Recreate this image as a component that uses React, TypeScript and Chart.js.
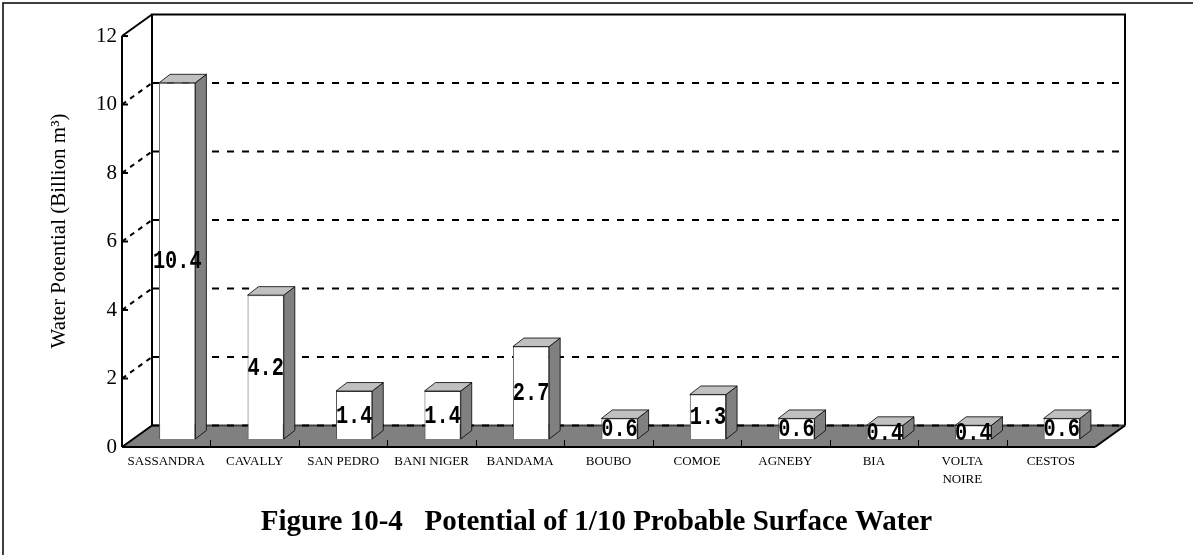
import React, { useEffect, useRef } from 'react';
import { Chart, registerables } from 'chart.js';

Chart.register(...registerables);

const categories: (string | string[])[] = [
  'SASSANDRA', 'CAVALLY', 'SAN PEDRO', 'BANI NIGER', 'BANDAMA', 'BOUBO',
  'COMOE', 'AGNEBY', 'BIA', ['VOLTA', 'NOIRE'], 'CESTOS',
];
const values = [10.4, 4.2, 1.4, 1.4, 2.7, 0.6, 1.3, 0.6, 0.4, 0.4, 0.6];
const yTicks = [0, 2, 4, 6, 8, 10, 12];
const yTitle = 'Water Potential (Billion m\u00B3)';
const caption = 'Figure 10-4   Potential of 1/10 Probable Surface Water';

// 3D geometry (pixels)
const WALL_DX = 30;
const WALL_DY = 21.5;
const BAR_SX = 11;
const BAR_SY = 8;
const BAR_DX = 11;
const BAR_DY = 8.5;

const SERIF = '"Liberation Serif", "Times New Roman", serif';

const threeD = {
  id: 'threeD',
  beforeDatasetsDraw(chart: any) {
    const { ctx, chartArea: a, scales } = chart;
    const y = scales.y;
    const L = a.left, R = a.right, T = a.top, B = a.bottom;
    ctx.save();
    // back wall
    ctx.fillStyle = '#ffffff';
    ctx.fillRect(L + WALL_DX, T - WALL_DY, R - L, B - T);
    // floor
    ctx.beginPath();
    ctx.moveTo(L, B);
    ctx.lineTo(R, B);
    ctx.lineTo(R + WALL_DX, B - WALL_DY);
    ctx.lineTo(L + WALL_DX, B - WALL_DY);
    ctx.closePath();
    ctx.fillStyle = '#808080';
    ctx.fill();

    // floor back edge
    ctx.strokeStyle = '#404040';
    ctx.lineWidth = 2;
    ctx.beginPath();
    ctx.moveTo(L + WALL_DX, B - WALL_DY);
    ctx.lineTo(R + WALL_DX, B - WALL_DY);
    ctx.stroke();

    // dashed gridlines
    ctx.strokeStyle = '#000';
    ctx.lineWidth = 2;
    for (const v of yTicks) {
      if (v === yTicks[yTicks.length - 1]) continue;
      const py = y.getPixelForValue(v);
      ctx.setLineDash([7, 8]);
      ctx.beginPath();
      ctx.moveTo(L + WALL_DX, py - WALL_DY);
      ctx.lineTo(R + WALL_DX, py - WALL_DY);
      ctx.stroke();
      if (v !== 0) {
        ctx.setLineDash([5, 5]);
        ctx.beginPath();
        ctx.moveTo(L, py);
        ctx.lineTo(L + WALL_DX, py - WALL_DY);
        ctx.stroke();
      }
    }
    ctx.setLineDash([]);

    // solid frame edges
    ctx.lineWidth = 2;
    ctx.strokeStyle = '#000';
    const seg = (x1: number, y1: number, x2: number, y2: number) => {
      ctx.beginPath();
      ctx.moveTo(x1, y1);
      ctx.lineTo(x2, y2);
      ctx.stroke();
    };
    seg(L, T, L, B);
    seg(L, T, L + WALL_DX, T - WALL_DY);
    seg(L + WALL_DX, T - WALL_DY, L + WALL_DX, B - WALL_DY);
    seg(L + WALL_DX - 1, T - WALL_DY, R + WALL_DX + 1, T - WALL_DY);
    seg(R + WALL_DX, T - WALL_DY, R + WALL_DX, B - WALL_DY);
    seg(L, B, R, B);
    seg(L, B, L + WALL_DX, B - WALL_DY);
    seg(R, B, R + WALL_DX, B - WALL_DY);
    // y tick marks
    for (const v of yTicks) {
      const py = y.getPixelForValue(v);
      seg(L, py, L + 6, py);
    }
    // x category boundary ticks
    ctx.lineWidth = 1;
    const n = categories.length;
    for (let i = 1; i < n; i++) {
      const px = Math.round(L + (i * (R - L)) / n) + 0.5;
      seg(px, B, px, B - 7);
    }

    // translate so the library draws bar fronts in the bar plane
    ctx.translate(BAR_SX, -BAR_SY);
  },
  afterDatasetsDraw(chart: any) {
    const { ctx } = chart;
    ctx.restore();
    const meta = chart.getDatasetMeta(0);
    ctx.save();
    meta.data.forEach((el: any, i: number) => {
      const w = el.width;
      const cx = el.x + BAR_SX;
      const top = el.y - BAR_SY;
      const base = el.base - BAR_SY;
      const l = cx - w / 2;
      const r = cx + w / 2;
      ctx.lineWidth = 0.8;
      ctx.strokeStyle = '#000';
      // side face
      ctx.beginPath();
      ctx.moveTo(r, top);
      ctx.lineTo(r + BAR_DX, top - BAR_DY);
      ctx.lineTo(r + BAR_DX, base - BAR_DY);
      ctx.lineTo(r, base);
      ctx.closePath();
      ctx.fillStyle = '#808080';
      ctx.fill();
      ctx.stroke();
      // top face
      ctx.beginPath();
      ctx.moveTo(l, top);
      ctx.lineTo(l + BAR_DX, top - BAR_DY);
      ctx.lineTo(r + BAR_DX, top - BAR_DY);
      ctx.lineTo(r, top);
      ctx.closePath();
      ctx.fillStyle = '#c0c0c0';
      ctx.fill();
      ctx.stroke();
      // value label (tall, condensed monospace digits)
      ctx.save();
      ctx.translate(cx, (top + base) / 2 + 1);
      ctx.scale(0.78, 1);
      ctx.fillStyle = '#000';
      ctx.font = 'bold 26px "Liberation Mono", "DejaVu Sans Mono", monospace';
      ctx.textAlign = 'center';
      ctx.textBaseline = 'middle';
      ctx.fillText(values[i].toFixed(1), 0, 0);
      ctx.restore();
    });
    ctx.restore();
  },
  afterDraw(chart: any) {
    const { ctx, width, height } = chart;
    ctx.save();
    // y axis title
    ctx.translate(65, 231);
    ctx.rotate(-Math.PI / 2);
    ctx.fillStyle = '#000';
    ctx.font = `21px ${SERIF}`;
    ctx.textAlign = 'center';
    ctx.textBaseline = 'alphabetic';
    ctx.fillText(yTitle, 0, 0);
    ctx.restore();

    ctx.save();
    ctx.fillStyle = '#000';
    ctx.font = `bold 29px ${SERIF}`;
    ctx.textAlign = 'center';
    ctx.textBaseline = 'alphabetic';
    ctx.fillText(caption, width / 2, 530);
    // outer frame (top and left visible)
    ctx.strokeStyle = '#000';
    ctx.lineWidth = 1.5;
    ctx.beginPath();
    ctx.moveTo(3, height);
    ctx.lineTo(3, 3);
    ctx.lineTo(width, 3);
    ctx.stroke();
    ctx.restore();
  },
};

export default function App() {
  const ref = useRef<HTMLCanvasElement | null>(null);
  useEffect(() => {
    const canvas = ref.current;
    if (!canvas) return;
    const chart = new Chart(canvas, {
      type: 'bar',
      data: {
        labels: categories as any,
        datasets: [
          {
            data: values,
            backgroundColor: '#ffffff',
            borderColor: '#555555',
            borderWidth: 1,
            barPercentage: 0.41,
            categoryPercentage: 1,
            clip: false as any,
          },
        ],
      },
      options: {
        animation: false,
        responsive: false,
        maintainAspectRatio: false,
        devicePixelRatio: 1,
        layout: { padding: { left: 0, top: 36, right: 98, bottom: 0 } },
        plugins: {
          legend: { display: false },
          tooltip: { enabled: false },
          title: { display: false },
        },
        scales: {
          x: {
            grid: { display: false, drawTicks: false },
            border: { display: false },
            ticks: {
              color: '#000',
              font: { family: SERIF, size: 13, lineHeight: 1.35 },
              padding: 6,
              maxRotation: 0,
              autoSkip: false,
            },
            afterFit: (s: any) => {
              s.height = 108;
            },
          },
          y: {
            min: 0,
            max: 12,
            grid: { display: false, drawTicks: false },
            border: { display: false },
            ticks: {
              stepSize: 2,
              color: '#000',
              font: { family: SERIF, size: 21 },
              padding: 5,
            },
            afterFit: (s: any) => {
              s.width = 122;
            },
          },
        },
      },
      plugins: [threeD],
    });
    return () => chart.destroy();
  }, []);

  return (
    <div style={{ position: 'fixed', left: 0, top: 0, width: 1193, height: 555, background: '#fff' }}>
      <canvas ref={ref} width={1193} height={555} style={{ display: 'block' }} />
    </div>
  );
}
